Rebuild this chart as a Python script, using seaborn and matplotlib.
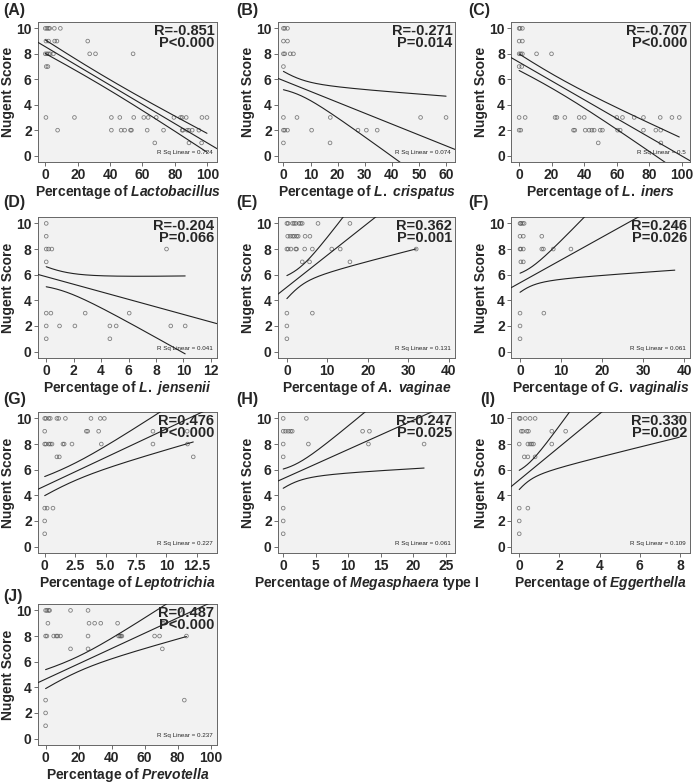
import numpy as np
import pandas as pd
import matplotlib
matplotlib.use("Agg")
import matplotlib.pyplot as plt
import seaborn as sns

# Nugent score -> percentage values of the points in each row
lacto_pts = {10: [0, 1, 2, 2.7, 5.6, 9.3], 9: [0.4, 2, 5.8, 7.2, 26.2],
             8: [0, 1, 2, 3, 5, 27.4, 31, 54.2], 7: [0.6, 1.6],
             3: [0.4, 18, 40.8, 46, 54.6, 60.8, 63.5, 68.5, 79.4, 83.5, 84.5, 87, 96.7, 99.8],
             2: [7.6, 40.8, 46.8, 49, 52.6, 53.2, 62.9, 73, 84.5, 85, 87.6, 88.7, 90.7, 94.8],
             1: [67.6, 88.7, 96.5]}
crisp_pts = {10: [0, 0.5, 1.5], 9: [0, 1.5], 8: [0, 0.5, 2.5, 3.7], 7: [0],
             3: [0, 5, 17.3, 50.6, 60], 2: [0, 0.5, 1.5, 10.4, 27.5, 30.6, 34.6],
             1: [0, 17.2]}
iners_pts = {10: [0, 0.6, 2], 9: [0, 2], 8: [0, 1, 2, 10.7, 19.9], 7: [0, 1.6],
             3: [0, 3.7, 22.1, 23.2, 28.1, 36.9, 40, 60, 63.5, 70.7, 76.4, 86.7, 93.9, 98.4],
             2: [0, 1, 33.4, 34.2, 40.6, 43, 44.7, 46.1, 49.8, 51.2, 60.5, 62.1, 76.4, 84, 87],
             1: [48.6, 87.1]}
jens_pts = {10: [0], 9: [0], 8: [0, 0.17, 0.41, 8.77], 7: [0],
            3: [0, 0.34, 2.84, 6.05], 2: [0, 0.97, 2.09, 4.64, 5.1, 9.08, 10.13],
            1: [0, 4.64]}
avag_pts = {10: [0, 0.3, 1.4, 1.8, 2.2, 3.0, 3.4, 3.8, 7.7, 15.6],
            9: [0.2, 0.8, 1.4, 1.8, 2.4, 2.8, 4.5, 5.7],
            8: [0, 0.3, 1.0, 2.2, 2.4, 4.4, 6.3, 11.1, 13.2, 32],
            7: [3.8, 5.6, 15.6], 3: [0, 6.3], 2: [0], 1: [0]}
gvag_pts = {10: [0, 0.2, 0.6, 1.0, 37.7], 9: [0, 0.8, 5.3],
            8: [0, 0.2, 0.8, 5.3, 5.7, 8.1, 12.4], 7: [0.2, 0.8],
            3: [0, 5.8], 2: [0], 1: [0]}
lept_pts = {10: [0, 0.1, 0.33, 0.46, 1.0, 1.15, 1.7, 3.8, 4.57, 4.9],
            9: [0, 3.42, 3.53, 4.43, 8.89, 11.7],
            8: [0, 0.1, 0.33, 0.46, 0.6, 1.5, 1.6, 2.24, 4.65, 8.89, 11.73],
            7: [1.0, 1.2, 12.2], 3: [0, 0.2, 0.68], 2: [0], 1: [0]}
mega_pts = {10: [0, 3.56], 9: [0, 0.36, 0.77, 1.13, 1.39, 12.2, 13.25],
            8: [0, 3.87, 13.1, 21.65], 7: [0], 3: [0], 2: [0], 1: [0]}
egg_pts = {10: [0, 0.05, 0.3, 0.54, 0.79, 7.97], 9: [0.1, 0.18, 0.38, 0.46, 1.62, 2.31],
           8: [0, 0.43, 0.54, 0.63, 0.71, 1.62], 7: [0.25, 0.43, 0.79],
           3: [0, 0.43], 2: [0], 1: [0]}
prev_pts = {10: [0, 0.8, 1.8, 2.4, 15.1, 25.7, 81.3],
            9: [1.4, 26.3, 29.7, 33.4, 43.6, 70.7, 71.5],
            8: [0, 0.8, 4.9, 6.5, 7.3, 9.0, 25.7, 44.2, 45, 45.6, 46.2, 66, 69, 85.3],
            7: [15.1, 25.7, 70.7], 3: [0, 84], 2: [0], 1: [0]}

# linear fit: intercept, slope, mean x, band half-width terms
lacto_fit = (8.56, -0.0756, 35, 0.42, 0.0094)
crisp_fit = (5.9, -0.0855, 5, 0.63, 0.07)
iners_fit = (7.34, -0.0737, 20, 0.566, 0.016)
jens_fit = (5.84, -0.294, 0.8, 0.74, 0.316)
avag_fit = (5.03, 0.249, 3, 0.74, 0.17)
gvag_fit = (5.37, 0.178, 1.5, 0.706, 0.157)
lept_fit = (4.72, 0.4465, 1.8, 0.669, 0.1817)
mega_fit = (5.3, 0.228, 1.5, 0.687, 0.201)
egg_fit = (5.2, 1.29, 0.35, 0.679, 0.908)
prev_fit = (4.64, 0.0597, 18, 0.59, 0.0248)

tags = ["(A)", "(B)", "(C)", "(D)", "(E)", "(F)", "(G)", "(H)", "(I)", "(J)"]
taxa = [r"$\mathit{Lactobacillus}$", r"$\mathit{L.\ crispatus}$", r"$\mathit{L.\ iners}$",
        r"$\mathit{L.\ jensenii}$", r"$\mathit{A.\ vaginae}$", r"$\mathit{G.\ vaginalis}$",
        r"$\mathit{Leptotrichia}$", r"$\mathit{Megasphaera}$ type I",
        r"$\mathit{Eggerthella}$", r"$\mathit{Prevotella}$"]
r_vals = ["R=-0.851", "R=-0.271", "R=-0.707", "R=-0.204", "R=0.362",
          "R=0.246", "R=0.476", "R=0.247", "R=0.330", "R=0.487"]
p_vals = ["P<0.000", "P=0.014", "P<0.000", "P=0.066", "P=0.001",
          "P=0.026", "P<0.000", "P=0.025", "P=0.002", "P<0.000"]
rsq = ["0.724", "0.074", "0.5", "0.041", "0.131", "0.061", "0.227", "0.061", "0.109", "0.237"]
xticks = [[0, 20, 40, 60, 80, 100], [0, 10, 20, 30, 40, 50, 60], [0, 20, 40, 60, 80, 100],
          [0, 2, 4, 6, 8, 10, 12], [0, 10, 20, 30, 40], [0, 10, 20, 30, 40],
          [0, 2.5, 5.0, 7.5, 10, 12.5], [0, 5, 10, 15, 20, 25], [0, 2, 4, 6, 8],
          [0, 20, 40, 60, 80, 100]]
xticklabels = [None, None, None, None, None, None,
               ["0", "2.5", "5.0", "7.5", "10", "12.5"], None, None, None]
yticks = [0, 2, 4, 6, 8, 10]
xlims = [(-4.5, 106), (-2, 63.3), (-5, 105), (-0.6, 12.45), (-2.2, 41.6),
         (-2.2, 41.4), (-0.55, 14.15), (-0.8, 26.4), (-0.41, 8.5), (-4.6, 103.8)]

points = [lacto_pts, crisp_pts, iners_pts, jens_pts, avag_pts,
          gvag_pts, lept_pts, mega_pts, egg_pts, prev_pts]
fits = [lacto_fit, crisp_fit, iners_fit, jens_fit, avag_fit,
        gvag_fit, lept_fit, mega_fit, egg_fit, prev_fit]

sns.set_style("ticks")
plt.rcParams["font.family"] = ["Liberation Sans", "DejaVu Sans"]
plt.rcParams["font.weight"] = "bold"
plt.rcParams["mathtext.fontset"] = "custom"
plt.rcParams["mathtext.it"] = "Liberation Sans:italic:bold"
plt.rcParams["mathtext.rm"] = "Liberation Sans:bold"
plt.rcParams["mathtext.bf"] = "Liberation Sans:bold"

W, H = 699, 784
fig = plt.figure(figsize=(W / 100, H / 100), dpi=100)

col_left = [38, 278, 511]
col_w = [179, 177, 179]
row_top = [22, 217, 412, 604]
row_h = [140, 141, 141, 141]
tag_x = [3, 236, 468]
tag_y = [3, 195, 392, 589]

for i in range(10):
    r, c = divmod(i, 3)
    ax = fig.add_axes([col_left[c] / W, 1 - (row_top[r] + row_h[r]) / H,
                       col_w[c] / W, row_h[r] / H])
    ax.set_facecolor("#f2f2f2")

    df = pd.DataFrame([(x, y) for y, xs in points[i].items() for x in xs],
                      columns=["pct", "nugent"])
    sns.scatterplot(data=df, x="pct", y="nugent", ax=ax, s=7, marker="o",
                    legend=False, zorder=2)
    sc = ax.collections[-1]
    sc.set_facecolor("none")
    sc.set_edgecolor((0.3, 0.3, 0.3, 0.7))
    sc.set_linewidth(0.6)

    b0, b1, xbar, a, b = fits[i]
    xl = np.linspace(xlims[i][0], xlims[i][1], 200)
    ax.plot(xl, b0 + b1 * xl, color="#222222", lw=0.8, zorder=3)
    xc = np.linspace(df.pct.min(), df.pct.max(), 300)
    h = np.sqrt(a ** 2 + (b * (xc - xbar)) ** 2)
    ax.plot(xc, b0 + b1 * xc + h, color="#222222", lw=0.8, zorder=3)
    ax.plot(xc, b0 + b1 * xc - h, color="#222222", lw=0.8, zorder=3)

    ax.set_xlim(*xlims[i])
    ax.set_ylim(-0.5, 10.5)
    xlabs = xticklabels[i] or [f"{v:g}" for v in xticks[i]]
    ax.set_xticks(xticks[i], labels=xlabs, fontweight="bold")
    ax.set_yticks(yticks, labels=[str(v) for v in yticks], fontweight="bold")
    ax.tick_params(direction="out", length=3, width=0.6, color="#555555",
                   labelsize=10, pad=1.5)
    for s in ax.spines.values():
        s.set_visible(True)
        s.set_color("#666666")
        s.set_linewidth(0.7)

    ax.set_ylabel("Nugent Score", fontsize=10, fontweight="bold", labelpad=1)
    ax.set_xlabel("Percentage of " + taxa[i], fontsize=10, fontweight="bold", labelpad=0.5)

    ax.text(0.985, 0.985, r_vals[i] + "\n" + p_vals[i], transform=ax.transAxes,
            ha="right", va="top", fontsize=10.5, fontweight="bold", linespacing=0.78,
            zorder=5)
    ax.text(0.975, 0.05, "R Sq Linear = " + rsq[i], transform=ax.transAxes,
            ha="right", va="bottom", fontsize=4.5, fontweight="normal", zorder=5)

    tx = tag_x[c] if i != 8 else 480
    fig.text(tx / W, 1 - tag_y[r] / H, tags[i], ha="left", va="top",
             fontsize=11.5, fontweight="bold")

fig.savefig("out.png", dpi=100)
